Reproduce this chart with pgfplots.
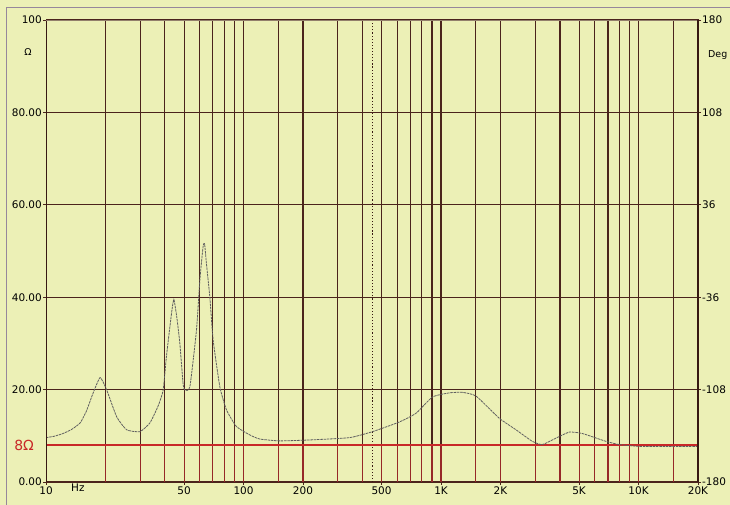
\documentclass[border=0pt]{standalone}
\usepackage{pgfplots}
\pgfplotsset{compat=1.18}
\usepackage{fontspec}
\setmainfont{DejaVu Sans}
\definecolor{bg}{RGB}{236,240,182}
\definecolor{gridbrown}{RGB}{75,36,28}
\definecolor{darkbrown}{RGB}{55,25,18}
\definecolor{ohmred}{RGB}{200,40,40}
\definecolor{lowred}{RGB}{150,40,40}
\definecolor{curvegray}{RGB}{95,95,95}
\definecolor{framegray}{RGB}{150,135,155}
\begin{document}
\begin{tikzpicture}
\useasboundingbox[fill=bg] (-46bp,-23bp) rectangle (684bp,482bp);
\draw[framegray, line width=0.8bp] (-40bp,-23bp) -- (-40bp,475bp) -- (684bp,475bp);
\begin{axis}[
  at={(0,0)}, anchor=south west,
  scale only axis, width=652bp, height=462bp,
  xmode=log, log basis x=10,
  xmin=10, xmax=20000, ymin=0, ymax=100,
  xtick={10,50,100,200,500,1000,2000,5000,10000,20000},
  xticklabels={10,50,100,200,500,1K,2K,5K,10K,20K},
  extra x ticks={14.5}, extra x tick labels={Hz},
  extra x tick style={major tick length=0pt},
  minor xtick={},
  ytick={0,20,40,60,80,100},
  yticklabels={0.00,20.00,40.00,60.00,80.00,100},
  ymajorgrids,
  major grid style={gridbrown, line width=1.1bp},
  tick align=outside, major tick length=3bp,
  tick style={gridbrown, line width=0.7bp},
  xtick pos=bottom, ytick pos=left,
  ticklabel style={font=\fontsize{10.5}{12}\selectfont, text=black},
  yticklabel style={inner sep=1bp},
  xticklabel style={inner sep=2bp},
  /pgf/number format/assume math mode=true,
  axis line style={gridbrown, line width=1bp},
]
\pgfplotsinvokeforeach{20,30,40,50,60,70,80,90,100,150,200,300,400,500,600,700,800,900,1000,1500,2000,3000,4000,5000,6000,7000,8000,9000,10000,15000}{
  \draw[gridbrown, line width=1.1bp] (axis cs:#1,8) -- (axis cs:#1,100);
  \draw[lowred, line width=1.1bp] (axis cs:#1,0) -- (axis cs:#1,8);
}
\draw[darkbrown, dotted, line width=1.1bp] (axis cs:450,0) -- (axis cs:450,100);
\addplot[ohmred, line width=1.3bp] coordinates {(10,8) (20000,8)};
\addplot[curvegray, line width=0.8bp, dash pattern=on 2.5bp off 0.8bp, smooth, tension=0.3] coordinates {
(10,9.6) (11,9.9) (12.2,10.5) (13.5,11.4) (14.9,12.8) (16,15.3) (17.3,19.2) (18.8,22.6) (20.3,19.9) (22.8,14.1)
(25.6,11.3) (29.9,10.9) (33.6,12.8) (37,16.5) (39.2,19.9) (40.7,27.1) (43.2,36.5)
(44.4,39.5) (46,35.5) (47.6,30) (49.4,21.4) (50.4,19.9) (53.5,20.6) (57.8,32.9)
(60.1,43.7) (62.4,50.9) (63.5,51.6) (65,47) (67.5,40.1) (70.2,30.7) (75.9,20.6)
(82,15.6) (92.1,12.0) (107.5,10.2) (120.8,9.3) (152,8.9) (216,9.1) (344,9.6)
(450,10.9) (616,13.0) (748,14.9) (905,18.4) (1104,19.3) (1283,19.4) (1504,18.6)
(1972,13.8) (2397,11.3) (2898,8.8) (3256,8.1) (3821,9.5) (4460,10.8) (5188,10.5)
(6838,8.8) (7980,8.1) (10070,7.7) (12700,7.7) (20000,7.7)
};
\draw[darkbrown, line width=1.8bp] (rel axis cs:0,0) -- (rel axis cs:0,1);
\draw[darkbrown, line width=1.8bp] (rel axis cs:1,0) -- (rel axis cs:1,1);
\draw[gray!70!brown, line width=0.8bp] (rel axis cs:0,1) -- (rel axis cs:1,1);
\end{axis}
\begin{axis}[
  at={(0,0)}, anchor=south west,
  scale only axis, width=652bp, height=462bp,
  xmode=log, xmin=10, xmax=20000, ymin=-180, ymax=180,
  axis x line=none, axis y line*=right,
  ytick={-180,-108,-36,36,108,180},
  yticklabels={-180,-108,-36,36,108,180},
  tick align=outside, major tick length=3bp,
  tick style={gridbrown, line width=0.7bp},
  ticklabel style={font=\fontsize{10.5}{12}\selectfont, text=black},
  yticklabel style={inner sep=1bp},
  /pgf/number format/assume math mode=true,
  axis line style={darkbrown, line width=1.8bp},
]
\addplot[draw=none] coordinates {(100,0)};
\end{axis}
\node[ohmred, font=\fontsize{14}{14}\selectfont, anchor=east, inner sep=0pt] at (-12bp,36.5bp) {8Ω};
\node[font=\fontsize{9.5}{9.5}\selectfont, text=black] at (-18bp,430bp) {Ω};
\node[font=\fontsize{9.5}{9.5}\selectfont, text=black, anchor=west, inner sep=0pt] at (662bp,427bp) {Deg};
\end{tikzpicture}
\end{document}
